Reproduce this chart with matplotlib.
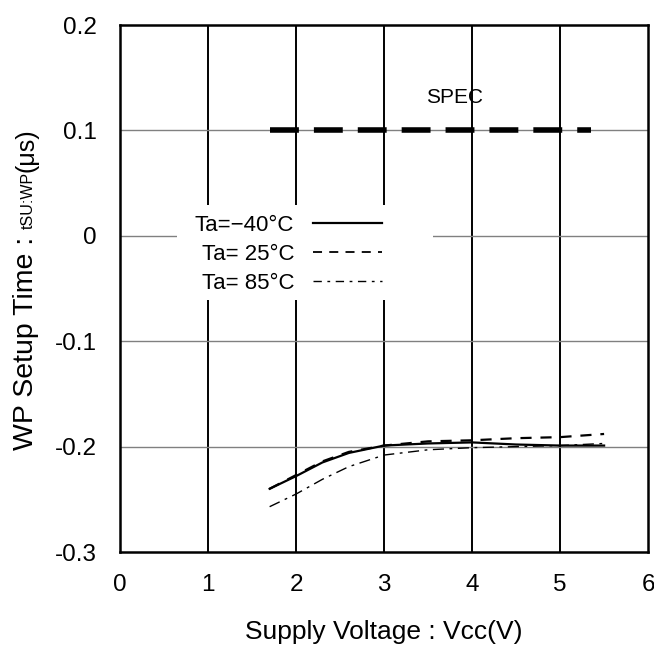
import matplotlib
matplotlib.use('Agg')
import matplotlib.pyplot as plt
from matplotlib.lines import Line2D
from matplotlib.patches import Rectangle

plt.rcParams['font.family'] = ['Liberation Sans', 'DejaVu Sans']

# supply voltage (V)
vcc = [1.7, 2.0, 2.3, 2.6, 3.0, 3.5, 4.0, 4.5, 5.0, 5.5]
# setup time (us)
t_m40 = [-0.240, -0.228, -0.215, -0.206, -0.199, -0.197, -0.196, -0.198, -0.199, -0.199]
t_25 = [-0.240, -0.227, -0.214, -0.205, -0.199, -0.195, -0.194, -0.192, -0.191, -0.188]
t_85 = [-0.257, -0.245, -0.231, -0.219, -0.208, -0.203, -0.201, -0.200, -0.199, -0.197]
spec_x = [1.7, 5.35]
spec_y = [0.1, 0.1]

labels = ['Ta=\u221240\u00b0C', 'Ta= 25\u00b0C', 'Ta= 85\u00b0C']

fig = plt.figure(figsize=(6.54, 6.46), dpi=100)
ax = fig.add_axes([0.1835, 0.1455, 0.8075, 0.8157])

ax.set_xlim(0, 6)
ax.set_ylim(-0.3, 0.2)
ax.set_xticks(range(0, 7))
ax.set_yticks([-0.3, -0.2, -0.1, 0, 0.1, 0.2])
ax.set_yticklabels(['-0.3', '-0.2', '-0.1', '0', '0.1', '0.2'])
ax.tick_params(length=0, labelsize=17.5)
ax.tick_params(axis='x', pad=16)
ax.tick_params(axis='y', pad=17)

for xv in range(1, 6):
    ax.axvline(xv, color='black', lw=1.4, zorder=1)
for yv in [-0.2, -0.1, 0, 0.1]:
    ax.axhline(yv, color='#808080', lw=1.0, zorder=1)
for s in ax.spines.values():
    s.set_linewidth(1.8)

spec, = ax.plot(spec_x, spec_y, color='black', lw=4.0, zorder=3)
spec.set_dashes((5.2, 2.7))
ax.text(3.8, 0.131, 'SPEC', fontsize=15, ha='center', va='center')

l1, = ax.plot(vcc, t_m40, color='black', lw=1.6, zorder=3)
l2, = ax.plot(vcc, t_25, color='black', lw=1.6, ls=(0, (5, 4)), zorder=3)
l3, = ax.plot(vcc, t_85, color='black', lw=1.0, ls=(0, (8, 4, 2, 4)), zorder=3)

# white box behind the legend hides the grid
ax.add_patch(Rectangle((0.108, 0.478), 0.485, 0.180, transform=ax.transAxes,
                       facecolor='white', edgecolor='none', zorder=2))
h1 = Line2D([], [], color='black', lw=1.6)
h2 = Line2D([], [], color='black', lw=1.3, ls=(0, (5, 4)))
h3 = Line2D([], [], color='black', lw=1.0, ls=(0, (6, 4, 2, 4)))
leg = ax.legend([h1, h2, h3], labels, loc='upper left', bbox_to_anchor=(0.142, 0.6395),
                markerfirst=False, frameon=False, fontsize=16, handlelength=3.1,
                handletextpad=0.85, labelspacing=0.35, borderpad=0, borderaxespad=0)
leg.set_zorder(5)

ax.set_xlabel('Supply Voltage : Vcc(V)', fontsize=19, labelpad=17)

# y label made of pieces, small text for the symbol
fig.canvas.draw()
r = fig.canvas.get_renderer()
pieces = [('WP Setup Time : ', 20.5), ('tSU:WP', 11.5), ('(\u03bcs)', 18)]
xb = 33 / 654
total = 0
objs = []
for s, fs in pieces:
    t = fig.text(xb, 0, s, fontsize=fs, rotation=90, rotation_mode='anchor',
                 ha='left', va='baseline')
    objs.append(t)
    total += t.get_window_extent(r).height
yc = 646 - 289
ystart = yc - total / 2
for t in objs:
    t.set_y(ystart / 646)
    ystart += t.get_window_extent(r).height

fig.savefig('out.png', dpi=100)
